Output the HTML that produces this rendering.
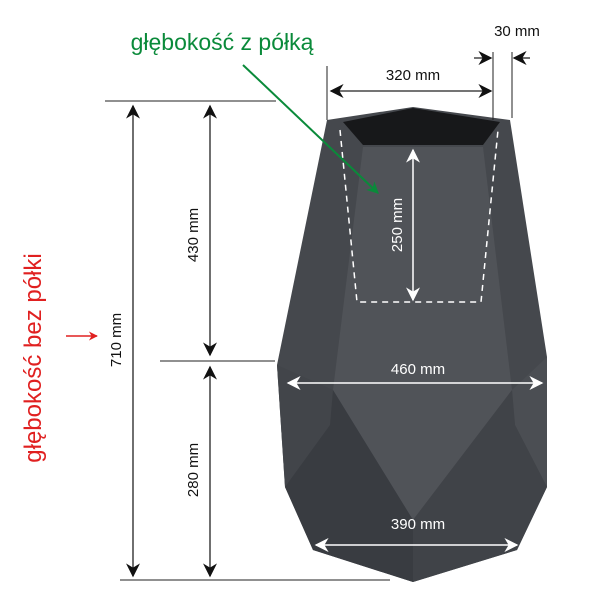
<!DOCTYPE html>
<html><head><style>
body{margin:0;background:#fff;}
svg text{font-family:"Liberation Sans",sans-serif;}
</style></head><body>
<svg width="600" height="600" viewBox="0 0 600 600" xmlns="http://www.w3.org/2000/svg">
<defs>
<marker id="ab" viewBox="0 0 10 10" refX="9" refY="5" markerWidth="9" markerHeight="9" markerUnits="userSpaceOnUse" orient="auto-start-reverse"><path d="M0,0 L10,5 L0,10 L3,5 z" fill="#111"/></marker>
<marker id="ab2" viewBox="0 0 10 10" refX="9" refY="5" markerWidth="14" markerHeight="14" markerUnits="userSpaceOnUse" orient="auto-start-reverse"><path d="M0,0 L10,5 L0,10 L3,5 z" fill="#111"/></marker>
<marker id="aw" viewBox="0 0 10 10" refX="9" refY="5" markerWidth="14" markerHeight="14" markerUnits="userSpaceOnUse" orient="auto-start-reverse"><path d="M0,0 L10,5 L0,10 L3,5 z" fill="#fff"/></marker>
<marker id="ag" viewBox="0 0 10 10" refX="9" refY="5" markerWidth="12" markerHeight="12" markerUnits="userSpaceOnUse" orient="auto"><path d="M0,0 L10,5 L0,10 L3,5 z" fill="#0a8a3a"/></marker>
<marker id="ar" viewBox="0 0 10 10" refX="9" refY="5" markerWidth="9" markerHeight="9" markerUnits="userSpaceOnUse" orient="auto"><path d="M0,0 L10,5 L0,10 L3,5 z" fill="#e02020"/></marker>
</defs>
<!-- pot -->
<polygon points="327,120 413,107 510,120 547,357 547,487 517,550 413,582 313,550 285,487 277,365" fill="#45484d"/>
<polygon points="277,365 333,390 330,425 285,487" fill="#42454a"/>
<polygon points="547,357 512,390 515,425 547,487" fill="#4b4e53"/>
<polygon points="363,147 483,147 512,390 413,520 333,390" fill="#505358"/>
<polygon points="333,390 413,520 413,582 313,550 285,487 330,425" fill="#393c41"/>
<polygon points="512,390 413,520 413,582 517,550 547,487 515,425" fill="#404348"/>
<polygon points="343,122 413,108 500,122 483,145 363,145" fill="#17181a"/>
<polyline points="340,130 357,302 481,302 498,130" fill="none" stroke="#fff" stroke-width="1.5" stroke-dasharray="6,5"/>
<line x1="413" y1="150" x2="413" y2="300" stroke="#fff" stroke-width="1.5" marker-start="url(#aw)" marker-end="url(#aw)"/>
<text x="0" y="0" transform="translate(402,225) rotate(-90)" text-anchor="middle" fill="#fff" font-size="15">250 mm</text>
<line x1="288" y1="383" x2="542" y2="383" stroke="#fff" stroke-width="1.5" marker-start="url(#aw)" marker-end="url(#aw)"/>
<text x="418" y="374" text-anchor="middle" fill="#fff" font-size="15">460 mm</text>
<line x1="316" y1="545" x2="517" y2="545" stroke="#fff" stroke-width="1.5" marker-start="url(#aw)" marker-end="url(#aw)"/>
<text x="418" y="529" text-anchor="middle" fill="#fff" font-size="15">390 mm</text>
<!-- left dims -->
<g stroke="#222" stroke-width="1">
<line x1="105" y1="101" x2="276" y2="101"/>
<line x1="160" y1="361" x2="275" y2="361"/>
<line x1="120" y1="580" x2="390" y2="580"/>
<line x1="327" y1="66" x2="327" y2="120"/>
<line x1="493" y1="52" x2="493" y2="120"/>
<line x1="512" y1="52" x2="512" y2="118"/>
</g>
<g stroke="#222" stroke-width="1.3">
<line x1="133" y1="106" x2="133" y2="576" marker-start="url(#ab2)" marker-end="url(#ab2)"/>
<line x1="210" y1="106" x2="210" y2="355" marker-start="url(#ab2)" marker-end="url(#ab2)"/>
<line x1="210" y1="367" x2="210" y2="576" marker-start="url(#ab2)" marker-end="url(#ab2)"/>
<line x1="331" y1="91" x2="491" y2="91" marker-start="url(#ab2)" marker-end="url(#ab2)"/>
<line x1="474" y1="58" x2="491" y2="58" marker-end="url(#ab2)"/>
<line x1="530" y1="58" x2="514" y2="58" marker-end="url(#ab2)"/>
</g>
<text transform="translate(198,235) rotate(-90)" text-anchor="middle" fill="#111" font-size="15">430 mm</text>
<text transform="translate(121,340) rotate(-90)" text-anchor="middle" fill="#111" font-size="15">710 mm</text>
<text transform="translate(198,470) rotate(-90)" text-anchor="middle" fill="#111" font-size="15">280 mm</text>
<text x="413" y="80" text-anchor="middle" fill="#111" font-size="15">320 mm</text>
<text x="517" y="36" text-anchor="middle" fill="#111" font-size="15">30 mm</text>
<text x="222" y="50" text-anchor="middle" fill="#0a8a3a" font-size="23">głębokość z półką</text>
<line x1="243" y1="65" x2="378" y2="193" stroke="#0a8a3a" stroke-width="2" marker-end="url(#ag)"/>
<text transform="translate(41,358) rotate(-90)" text-anchor="middle" fill="#e02020" font-size="24">głębokość bez półki</text>
<line x1="66" y1="336" x2="97" y2="336" stroke="#e02020" stroke-width="1.5" marker-end="url(#ar)"/>
</svg>
</body></html>
